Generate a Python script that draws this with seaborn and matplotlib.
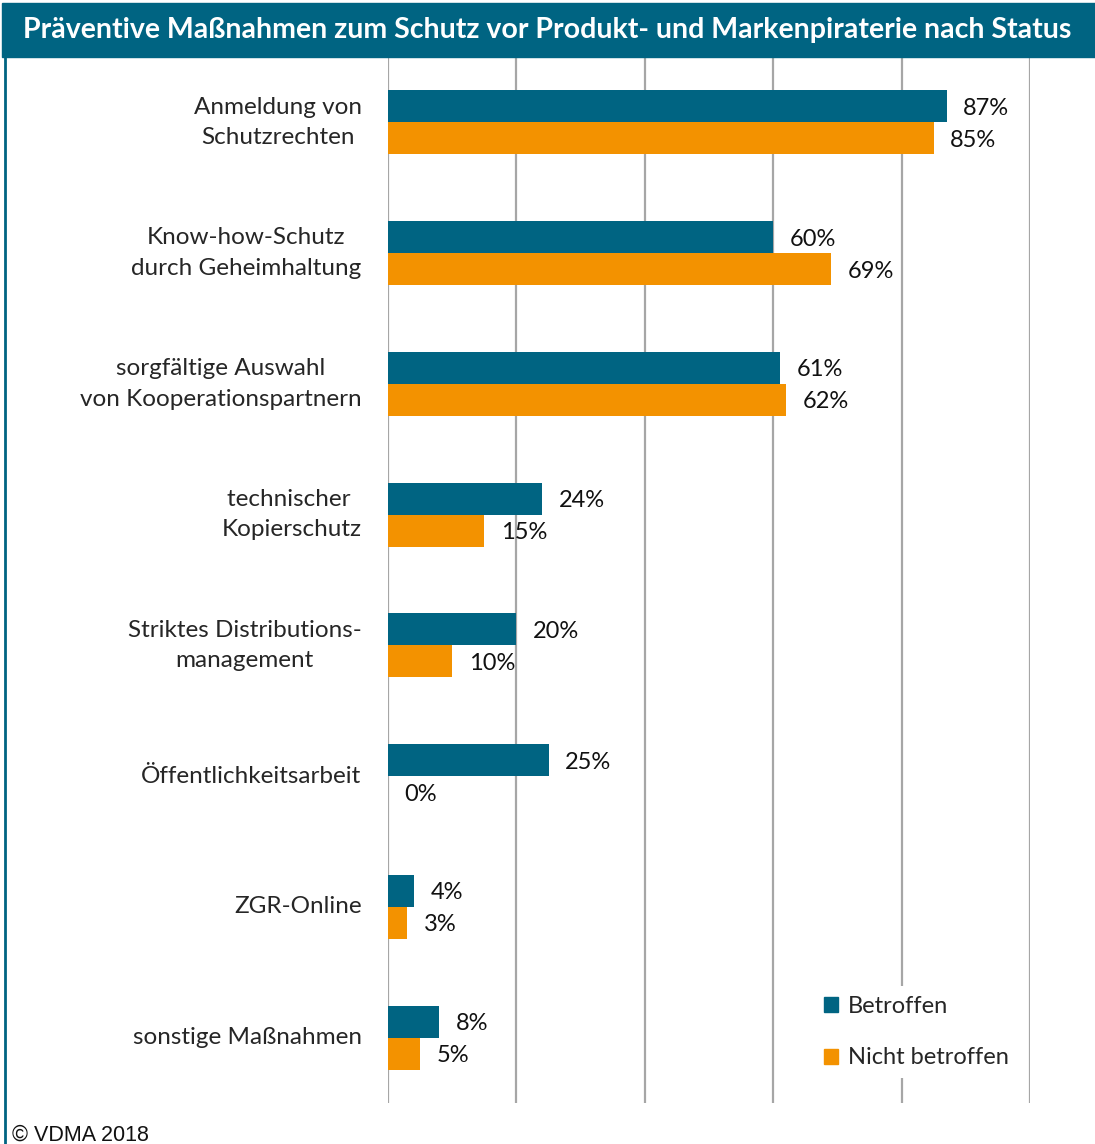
import pandas as pd
import seaborn as sns
import matplotlib.pyplot as plt
from matplotlib.patches import Rectangle

TEAL = "#006482"
ORANGE = "#f39200"
GRID = "#a6a6a6"

categories = ["Anmeldung von\nSchutzrechten",
              "Know-how-Schutz\ndurch Geheimhaltung",
              "sorgfältige Auswahl\nvon Kooperationspartnern",
              "technischer \nKopierschutz",
              "Striktes Distributions-\nmanagement",
              "Öffentlichkeitsarbeit",
              "ZGR-Online",
              "sonstige Maßnahmen"]
betroffen = [87, 60, 61, 24, 20, 25, 4, 8]
nicht_betroffen = [85, 69, 62, 15, 10, 0, 3, 5]
series = ["Betroffen", "Nicht betroffen"]

df = pd.DataFrame({
    "Kategorie": categories * 2,
    "Wert": betroffen + nicht_betroffen,
    "Status": [series[0]] * len(categories) + [series[1]] * len(categories),
})

sns.set_style("white")
plt.rcParams["font.family"] = ["Lato", "DejaVu Sans"]

fig = plt.figure(figsize=(10.95, 11.44), dpi=100)
ax = fig.add_axes([388 / 1095, 41 / 1144, 642 / 1095, 1046 / 1144])

sns.barplot(data=df, x="Wert", y="Kategorie", hue="Status", orient="h",
            palette=[TEAL, ORANGE], width=0.49, gap=0, saturation=1,
            edgecolor="none", ax=ax, legend=False)

ax.set_xlim(0, 100)
ax.set_ylim(len(categories) - 0.5, -0.5)
ax.set_xticks([0, 20, 40, 60, 80, 100])
ax.set_xticklabels([])
ax.grid(axis="x", color=GRID, linewidth=1.6)
ax.set_axisbelow(True)
for s in ax.spines.values():
    s.set_visible(False)
ax.tick_params(axis="both", length=0)
ax.tick_params(axis="y", pad=19, labelsize=17.5)
for lbl in ax.get_yticklabels():
    lbl.set_multialignment("center")
    lbl.set_linespacing(1.55)
    lbl.set_verticalalignment("center")
ax.set_xlabel("")
ax.set_ylabel("")

# value labels
for cont in ax.containers:
    for rect in cont:
        w = rect.get_width()
        ax.annotate(f"{w:.0f}%", (w, rect.get_y() + rect.get_height() / 2),
                    xytext=(12, -1.5), textcoords="offset points",
                    ha="left", va="center", fontsize=17, color="#111111",
                    annotation_clip=False)

# title bar
fig.patches.append(Rectangle((2 / 1095, 1 - 57 / 1144), 1 - 2 / 1095, 54 / 1144,
                             transform=fig.transFigure, color=TEAL, zorder=0))
fig.text(0.5, 1 - 30 / 1144,
         "Präventive Maßnahmen zum Schutz vor Produkt- und Markenpiraterie nach Status",
         ha="center", va="center", color="white", fontsize=20.5, fontweight="bold")
# left border line
fig.add_artist(plt.Line2D([5 / 1095, 5 / 1095], [0, 1 - 57 / 1144],
                          transform=fig.transFigure, color=TEAL, linewidth=2))

# legend
handles = [Rectangle((0, 0), 1, 1, color=TEAL), Rectangle((0, 0), 1, 1, color=ORANGE)]
leg = fig.legend(handles, series, loc="center left",
                 bbox_to_anchor=(803 / 1095, 1 - 1032 / 1144),
                 frameon=True, fontsize=17, handlelength=0.6, handleheight=0.6,
                 handletextpad=0.4, labelspacing=1.3, borderpad=0.4)
leg.get_frame().set_facecolor("white")
leg.get_frame().set_edgecolor("none")
leg.get_frame().set_alpha(1)

fig.text(12 / 1095, 1 - 1135 / 1144, "© VDMA 2018", ha="left", va="center",
         fontsize=15.5, family="Liberation Sans", color="#111111")

fig.savefig("out.png", dpi=100)
